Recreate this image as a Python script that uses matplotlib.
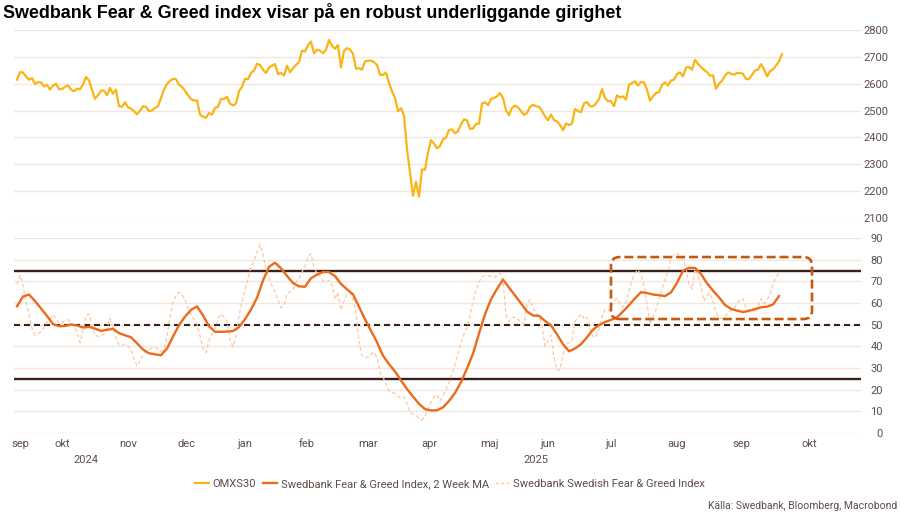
import numpy as np
import pandas as pd
import matplotlib
matplotlib.use("Agg")
import matplotlib.pyplot as plt
from matplotlib.patches import FancyBboxPatch
from matplotlib.lines import Line2D
from matplotlib import transforms

# ---------------- data ----------------
title = "Swedbank Fear & Greed index visar på en robust underliggande girighet"
source = "Källa: Swedbank, Bloomberg, Macrobond"
series_names = ["OMXS30", "Swedbank Fear & Greed Index, 2 Week MA",
                "Swedbank Swedish Fear & Greed Index"]
month_labels = ["sep", "okt", "nov", "dec", "jan", "feb", "mar", "apr",
                "maj", "jun", "jul", "aug", "sep", "okt"]
month_starts = ["2024-09-01", "2024-10-01", "2024-11-01", "2024-12-01",
                "2025-01-01", "2025-02-01", "2025-03-01", "2025-04-01",
                "2025-05-01", "2025-06-01", "2025-07-01", "2025-08-01",
                "2025-09-01", "2025-10-01", "2025-11-01"]
year_labels = ["2024", "2025"]
year_label_dates = ["2024-10-28", "2025-06-10"]
omx_ticks = list(range(2100, 2801, 100))
fg_ticks = list(range(0, 91, 10))
fg_levels = [75, 50, 25]

holidays = ["2024-12-24", "2024-12-25", "2024-12-26", "2024-12-31",
            "2025-01-01", "2025-01-06", "2025-04-18", "2025-04-21",
            "2025-05-01", "2025-05-29", "2025-06-06", "2025-06-20"]
start_date = "2024-09-25"

# OMXS30, daily (trading days)
omxs30 = [2615, 2643, 2642, 2627, 2615, 2621, 2599, 2606, 2605, 2590, 2596, 2578,
          2593, 2600, 2580, 2580, 2588, 2594, 2578, 2572, 2581, 2580, 2596, 2625,
          2612, 2578, 2544, 2557, 2574, 2575, 2557, 2584, 2563, 2578, 2516, 2514,
          2531, 2512, 2507, 2498, 2486, 2500, 2516, 2514, 2498, 2500, 2510, 2516,
          2547, 2578, 2599, 2611, 2618, 2617, 2596, 2588, 2574, 2557, 2543, 2537,
          2538, 2485, 2477, 2473, 2491, 2485, 2510, 2514, 2543, 2543, 2551, 2526,
          2519, 2526, 2572, 2588, 2618, 2617, 2640, 2649, 2674, 2670, 2652, 2640,
          2660, 2667, 2673, 2636, 2640, 2631, 2667, 2643, 2658, 2670, 2680, 2723,
          2720, 2744, 2757, 2714, 2726, 2723, 2714, 2726, 2763, 2742, 2730, 2744,
          2660, 2723, 2732, 2728, 2711, 2656, 2658, 2652, 2683, 2686, 2686, 2680,
          2670, 2633, 2633, 2642, 2602, 2572, 2547, 2498, 2509, 2481, 2356, 2269,
          2183, 2235, 2179, 2281, 2279, 2343, 2390, 2377, 2359, 2368, 2393, 2399,
          2427,
          2430, 2415, 2423, 2448, 2467, 2464, 2432, 2433, 2451, 2451, 2526, 2531,
          2520, 2543, 2547, 2553, 2565, 2547, 2501, 2483, 2510, 2519, 2512, 2498,
          2484, 2491, 2514, 2522, 2516, 2514, 2498, 2479, 2464, 2485, 2464, 2460,
          2446, 2427, 2452, 2446, 2452, 2506, 2498, 2494, 2526, 2532, 2516, 2516,
          2526, 2543, 2580, 2547, 2535, 2535, 2516, 2557, 2549, 2553, 2541, 2596,
          2602, 2609, 2593, 2606, 2605, 2578, 2537, 2553, 2565, 2569, 2596, 2605,
          2593, 2612, 2615, 2636, 2642, 2627, 2660, 2662, 2652, 2689, 2674, 2662,
          2652, 2643, 2630, 2631, 2581, 2600, 2611, 2630, 2642, 2637, 2633, 2640,
          2640, 2637, 2617, 2617, 2633, 2649, 2652, 2673, 2654, 2627, 2646, 2654,
          2667, 2683, 2710]

# Fear & Greed 2 week MA, every second trading day
fg_ma = [58.5, 63.0, 63.9, 60.9, 57.5, 54.0, 50.3, 49.3, 49.4, 50.1,
         49.6, 48.7, 49.0, 48.2, 47.1, 47.6, 48.1, 46.1, 45.1, 44.2,
         41.4, 38.5, 36.8, 36.3, 35.9, 39.0, 44.5, 49.8, 53.7, 56.8,
         58.4, 54.3, 49.3, 46.7, 46.7, 46.8, 47.1, 48.9, 52.5, 57.0,
         62.4, 70.4, 76.7, 78.6, 76.0, 72.5, 69.2, 67.7, 67.5, 71.4,
         73.1, 74.3, 74.3, 72.4, 68.8, 66.3, 64.0, 58.3, 52.5, 47.2,
         41.9, 35.7, 31.8, 28.4, 24.3, 20.3, 16.8, 13.5, 11.0, 10.4,
         10.5, 11.8, 14.8, 18.5, 23.5, 29.8, 36.6, 45.9, 54.8, 61.7,
         66.5, 70.8, 67.1, 63.5, 59.8, 56.1, 54.2, 54.1, 51.7, 49.7,
         45.5, 41.0, 37.7, 39.0, 41.0, 44.2, 47.7, 49.8, 51.2, 52.2,
         53.4, 56.1, 59.0, 62.2, 65.0, 64.6, 63.9, 63.6, 63.2, 64.9,
         69.3, 74.9, 76.2, 76.2, 73.4, 69.1, 65.7, 62.6, 59.1, 57.3,
         56.5, 55.8, 56.4, 57.2, 58.0, 58.3, 59.3, 63.2]

# Swedish Fear & Greed index, daily (trading days)
fg_raw = [68.6, 72.9, 68.3, 60.4, 54.8, 48.2, 45.2, 45.9, 46.8, 48.5,
          51.1, 52.5, 54.6, 52.8, 50.7, 51.0, 52.0, 52.3, 50.5, 49.4,
          46.6, 41.7, 47.3, 54.2, 54.9, 49.8, 45.4, 44.5, 44.9, 45.7,
          48.4, 52.8, 48.4, 44.2, 40.6, 40.4, 41.0, 40.2, 38.3, 34.4,
          31.0, 33.3, 36.0, 37.6, 38.4, 39.3, 39.6, 38.4, 37.7, 38.3,
          44.4, 54.0, 60.2, 63.3, 65.0, 64.1, 61.3, 57.8, 54.6, 52.2,
          50.3, 44.8, 39.3, 37.1, 42.7, 45.7, 48.5, 52.5, 55.0, 53.5,
          51.6, 43.3, 39.8, 44.9, 53.9, 60.8, 65.9, 71.4, 76.4, 79.4,
          83.5, 87.0, 82.1, 75.4, 71.8, 68.1, 64.8, 61.4, 57.7, 59.0,
          64.2, 65.2, 66.1, 69.8, 71.5, 74.2, 77.0, 81.1, 82.8, 76.4,
          73.8, 72.4, 70.3, 69.5, 70.4, 68.6, 61.7, 65.0, 56.7, 60.9,
          64.1, 64.7, 62.0, 55.5, 42.2, 35.7, 34.8, 35.1, 36.3, 37.4,
          34.8, 27.9, 25.8, 22.6, 19.6, 18.7, 18.3, 17.0, 16.1, 16.6,
          13.6, 9.5, 8.8, 8.1, 6.9, 5.9, 7.9, 11.0, 14.2, 16.7,
          17.6, 14.9, 17.0, 20.2, 23.2,
          27.3, 31.7, 36.5, 41.7, 45.6, 48.7, 54.0, 60.9, 65.8, 69.6,
          72.1, 72.7, 72.7, 72.2, 71.8, 72.6, 73.9, 70.2, 54.5, 51.5,
          53.4, 53.3, 52.3, 51.2, 50.1, 59.3, 61.6, 57.5, 55.8, 53.9,
          50.0, 40.2, 42.5, 45.1, 34.9, 29.1, 29.1, 36.0, 41.5, 41.5,
          42.7, 51.7, 53.0, 55.0, 52.5, 53.4, 47.9, 44.4, 44.6, 48.1,
          53.6, 56.9, 56.4, 57.5, 60.9, 62.2, 59.4, 58.1, 60.4, 65.8,
          70.5, 73.9, 75.3, 73.0, 68.1, 59.8, 50.2, 53.6, 57.0, 61.6,
          66.4, 70.5, 74.7, 80.3, 82.4, 82.8, 81.8, 79.9, 76.5, 68.3,
          66.4, 75.5, 72.7, 67.5, 60.9, 63.4, 64.7, 60.6, 55.9, 53.2,
          52.9, 54.0, 55.4, 56.5, 57.6, 59.6, 61.7, 62.0, 58.2, 55.8,
          56.9, 55.5, 58.3, 62.0, 59.7, 61.3, 64.0, 68.8, 71.8, 74.0]

# highlighted period (dashed box)
box_dates = ["2025-07-16", "2025-10-17"]
box_values = [52.6, 81.2]

# ---------------- calendar / x positions ----------------
cal = pd.bdate_range("2024-09-02", "2025-12-31", freq="C", holidays=holidays)

def pos(d):
    return float(cal.searchsorted(pd.Timestamp(d)))

i0 = int(pos(start_date))
x_omx = np.arange(i0, i0 + len(omxs30))
x_ma = np.arange(i0, i0 + 2 * len(fg_ma), 2)
x_raw = np.arange(i0, i0 + len(fg_raw))

XL = (16.0, 16.0 + 847 / 3.0)

# ---------------- style ----------------
TXT = "#5c4d47"
GRID = "#f1e7df"
DARK = "#3a1f1b"
C_OMX = "#fbb416"
C_MA = "#ec6a1c"
C_RAW = "#fcc8a0"
C_BOX = "#c8590f"
tick_font = ["Liberation Sans Narrow", "Roboto", "DejaVu Sans"]

W, H = 900, 515
fig = plt.figure(figsize=(W / 100, H / 100), dpi=100)

def rect(x0, y0, x1, y1):
    return [x0 / W, 1 - y1 / H, (x1 - x0) / W, (y1 - y0) / H]

ax1 = fig.add_axes(rect(14, 30, 861, 218))
ax2 = fig.add_axes(rect(14, 238, 861, 433))

for ax in (ax1, ax2):
    for s in ax.spines.values():
        s.set_visible(False)
    ax.set_xlim(*XL)
    ax.yaxis.tick_right()
    ax.grid(axis="y", color=GRID, lw=1.0)
    ax.grid(axis="x", visible=False)
    ax.set_axisbelow(True)
    ax.tick_params(axis="both", length=0, colors=TXT, labelsize=8)

# top panel
ax1.plot(x_omx, omxs30, color=C_OMX, lw=1.6, solid_joinstyle="round", zorder=3)
ax1.set_ylim(2100, 2800)
ax1.set_yticks(omx_ticks)
ax1.set_xticks([])
ax1.tick_params(axis="y", pad=20)
for lab in ax1.get_yticklabels():
    lab.set_ha("right")
    lab.set_family(tick_font)

# bottom panel
for lv in fg_levels:
    if lv == 50:
        ax2.axhline(lv, color=DARK, lw=1.5, linestyle=(0, (2.9, 1.9)), zorder=2)
    else:
        ax2.axhline(lv, color=DARK, lw=1.7, zorder=2)
ax2.plot(x_raw, fg_raw, color=C_RAW, lw=0.9, linestyle=(0, (3, 2)), zorder=3)
ax2.plot(x_ma, fg_ma, color=C_MA, lw=1.7, solid_joinstyle="round", zorder=4)
ax2.set_ylim(0, 90)
ax2.set_yticks(fg_ticks)
ax2.tick_params(axis="y", pad=15.8)
for lab in ax2.get_yticklabels():
    lab.set_ha("right")
    lab.set_family(tick_font)

# month labels centred in the visible part of each month
mpos, mlab = [], []
for k, lab in enumerate(month_labels):
    a = pos(month_starts[k]) - 0.5
    b = pos(month_starts[k + 1]) - 0.5
    a, b = max(a, XL[0]), min(b, XL[1])
    mpos.append((a + b) / 2)
    mlab.append(lab)
ax2.set_xticks(mpos, mlab)
ax2.tick_params(axis="x", pad=4)
for lab in ax2.get_xticklabels():
    lab.set_family(tick_font)

trans = transforms.blended_transform_factory(ax2.transData, ax2.transAxes)
for lab, d in zip(year_labels, year_label_dates):
    ax2.text(pos(d), -0.138, lab, transform=trans, ha="center", va="center",
             fontsize=8, color=TXT, family=tick_font)

# dashed highlight box
bx0, bx1 = pos(box_dates[0]), pos(box_dates[1])
aspect = 3.0 / (195.0 / 90.0)
box = FancyBboxPatch((bx0, box_values[0]), bx1 - bx0, box_values[1] - box_values[0],
                     boxstyle="round,pad=0,rounding_size=2.8", mutation_aspect=aspect,
                     fill=False, edgecolor=C_BOX, lw=1.9, linestyle=(0, (3.4, 1.5)),
                     zorder=5, clip_on=False)
ax2.add_patch(box)

# title, legend, source
fig.text(3 / W, 1 - 12 / H, title, fontsize=12.9, fontweight="bold",
         family=["Liberation Sans", "DejaVu Sans"], ha="left", va="center", color="#000000")

handles = [Line2D([], [], color=C_OMX, lw=1.6),
           Line2D([], [], color=C_MA, lw=1.7),
           Line2D([], [], color=C_RAW, lw=1.0, linestyle=(0, (2.5, 1.5)))]
leg = fig.legend(handles, series_names, loc="center", bbox_to_anchor=(0.5, 1 - 484 / H),
                 ncol=3, frameon=False, handlelength=1.25,
                 handletextpad=0.35, columnspacing=0.6, labelcolor=TXT,
                 prop={"family": tick_font, "size": 8})

fig.text(897 / W, 1 - 506 / H, source, ha="right", va="center", fontsize=7.5,
         color=TXT, family=tick_font)

fig.savefig("out.png", dpi=100)
